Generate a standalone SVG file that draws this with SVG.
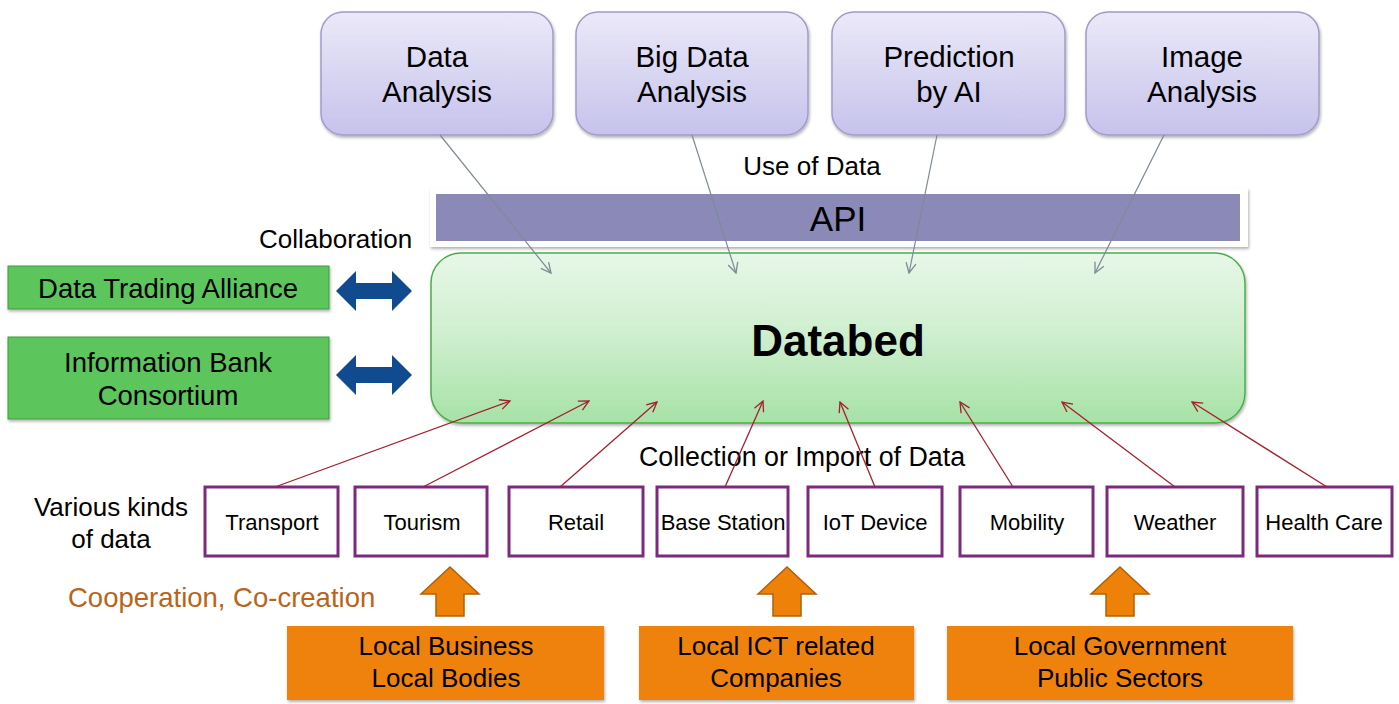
<svg xmlns="http://www.w3.org/2000/svg" width="1399" height="704" viewBox="0 0 1399 704">
<defs>
<linearGradient id="gTop" x1="0" y1="0" x2="0" y2="1">
<stop offset="0" stop-color="#ebe9f8"/><stop offset="1" stop-color="#c6c2ec"/>
</linearGradient>
<linearGradient id="gDb" x1="0" y1="0" x2="0" y2="1">
<stop offset="0" stop-color="#e8f7e8"/><stop offset="0.5" stop-color="#cdeecd"/><stop offset="1" stop-color="#a6e2a6"/>
</linearGradient>
<filter id="sh" x="-5%" y="-5%" width="110%" height="120%">
<feDropShadow dx="1" dy="2" stdDeviation="1.5" flood-color="#000" flood-opacity="0.3"/>
</filter>
<marker id="ag" viewBox="0 0 12 12" refX="11" refY="6" markerWidth="12" markerHeight="12" markerUnits="userSpaceOnUse" orient="auto">
<path d="M1,1 L11,6 L1,11" fill="none" stroke="#7d8b97" stroke-width="1.3"/>
</marker>
<marker id="ar" viewBox="0 0 12 12" refX="11" refY="6" markerWidth="12" markerHeight="12" markerUnits="userSpaceOnUse" orient="auto">
<path d="M1,1 L11,6 L1,11" fill="none" stroke="#a3202e" stroke-width="1.3"/>
</marker>
</defs>
<style>
text{font-family:"Liberation Sans",Arial,sans-serif;fill:#000}
.top{fill:url(#gTop);stroke:#a09cc8;stroke-width:1.5}
.tt{font-size:29.5px;text-anchor:middle}
.lbl{font-size:26px}
.grn{fill:#5cc65c;stroke:#3e9a3e;stroke-width:1}
.gt{font-size:27.5px;text-anchor:middle}
.dat{fill:#fff;stroke:#7b2a7e;stroke-width:3}
.dt{font-size:22px;text-anchor:middle}
.org{fill:#ee8208}
.ot{font-size:26px;text-anchor:middle}
.upa{fill:#ee8208;stroke:#b0600a;stroke-width:1.5}
.bl{fill:#0f4b8e}
.cg{stroke:#7d8b97;stroke-width:1.2;fill:none;marker-end:url(#ag)}
.cr{stroke:#a3202e;stroke-width:1.3;fill:none;marker-end:url(#ar)}
</style>
<rect width="1399" height="704" fill="#fff"/>

<g id="data-analysis"><rect class="top" x="321" y="12" width="232" height="123" rx="22" filter="url(#sh)"/><text class="tt" x="437" y="67">Data</text><text class="tt" x="437" y="102">Analysis</text></g>
<g id="big-data-analysis"><rect class="top" x="576" y="12" width="232" height="123" rx="22" filter="url(#sh)"/><text class="tt" x="692" y="67">Big Data</text><text class="tt" x="692" y="102">Analysis</text></g>
<g id="prediction-ai"><rect class="top" x="832" y="12" width="233" height="123" rx="22" filter="url(#sh)"/><text class="tt" x="949" y="67">Prediction</text><text class="tt" x="949" y="102">by AI</text></g>
<g id="image-analysis"><rect class="top" x="1086" y="12" width="233" height="123" rx="22" filter="url(#sh)"/><text class="tt" x="1202" y="67">Image</text><text class="tt" x="1202" y="102">Analysis</text></g>

<text class="lbl" x="812" y="175" text-anchor="middle">Use of Data</text>

<g id="api"><rect x="430" y="188" width="818" height="59" fill="#fff" filter="url(#sh)"/><rect x="436" y="194" width="804" height="47" fill="#8b89b7"/><text x="838" y="231" font-size="35" text-anchor="middle">API</text></g>

<text class="lbl" x="259" y="248">Collaboration</text>

<g id="databed"><rect x="431" y="253" width="814" height="170" rx="30" fill="url(#gDb)" stroke="#4aae4a" stroke-width="1.5" filter="url(#sh)"/><text x="838" y="356" font-size="44" font-weight="bold" text-anchor="middle">Databed</text></g>

<g id="data-trading-alliance"><rect class="grn" x="8" y="266" width="321" height="43" filter="url(#sh)"/><text class="gt" x="168" y="298">Data Trading Alliance</text></g>
<g id="information-bank"><rect class="grn" x="8" y="337" width="321" height="82" filter="url(#sh)"/><text class="gt" x="168" y="372">Information Bank</text><text class="gt" x="168" y="405">Consortium</text></g>

<g id="collab-arrows">
<path class="bl" d="M336,291 L356,271 L356,283 L392,283 L392,271 L412,291 L392,311 L392,299 L356,299 L356,311 Z"/>
<path class="bl" d="M336,375 L356,355 L356,367 L392,367 L392,355 L412,375 L392,395 L392,383 L356,383 L356,395 Z"/>
</g>

<text x="802" y="466" font-size="26.8" text-anchor="middle">Collection or Import of Data</text>

<text class="lbl" x="111" y="516" text-anchor="middle">Various kinds</text>
<text class="lbl" x="111" y="548" text-anchor="middle">of data</text>

<g id="transport"><rect class="dat" x="205" y="487" width="133" height="69"/><text class="dt" x="272" y="530">Transport</text></g>
<g id="tourism"><rect class="dat" x="355" y="487" width="132" height="69"/><text class="dt" x="422" y="530">Tourism</text></g>
<g id="retail"><rect class="dat" x="509" y="487" width="134" height="69"/><text class="dt" x="576" y="530">Retail</text></g>
<g id="base-station"><rect class="dat" x="657" y="487" width="131" height="69"/><text class="dt" x="723" y="530">Base Station</text></g>
<g id="iot-device"><rect class="dat" x="808" y="487" width="134" height="69"/><text class="dt" x="875" y="530">IoT Device</text></g>
<g id="mobility"><rect class="dat" x="960" y="487" width="133" height="69"/><text class="dt" x="1027" y="530">Mobility</text></g>
<g id="weather"><rect class="dat" x="1107" y="487" width="136" height="69"/><text class="dt" x="1175" y="530">Weather</text></g>
<g id="health-care"><rect class="dat" x="1257" y="487" width="135" height="69"/><text class="dt" x="1324" y="530">Health Care</text></g>

<g id="connectors">
<line class="cg" x1="440" y1="135" x2="551" y2="273"/>
<line class="cg" x1="692" y1="135" x2="736" y2="273"/>
<line class="cg" x1="937" y1="135" x2="909" y2="273"/>
<line class="cg" x1="1164" y1="135" x2="1095" y2="273"/>
<line class="cr" x1="275" y1="487" x2="510" y2="401"/>
<line class="cr" x1="423" y1="487" x2="589" y2="401"/>
<line class="cr" x1="560" y1="487" x2="657" y2="402"/>
<line class="cr" x1="725" y1="487" x2="763" y2="401"/>
<line class="cr" x1="875" y1="487" x2="840" y2="402"/>
<line class="cr" x1="1013" y1="487" x2="960" y2="402"/>
<line class="cr" x1="1175" y1="487" x2="1062" y2="402"/>
<line class="cr" x1="1327" y1="487" x2="1192" y2="402"/>
</g>

<text x="68" y="607" font-size="27.5" style="fill:#b8651a">Cooperation, Co-creation</text>

<g id="up-arrows">
<path class="upa" d="M450,567 L479,594 L464,594 L464,616 L436,616 L436,594 L421,594 Z"/>
<path class="upa" d="M787,567 L816,594 L801,594 L801,616 L773,616 L773,594 L758,594 Z"/>
<path class="upa" d="M1120,567 L1149,594 L1134,594 L1134,616 L1106,616 L1106,594 L1091,594 Z"/>
</g>

<g id="local-business"><rect class="org" x="287" y="626" width="317" height="74" filter="url(#sh)"/><text class="ot" x="446" y="655">Local Business</text><text class="ot" x="446" y="687">Local Bodies</text></g>
<g id="local-ict"><rect class="org" x="639" y="626" width="275" height="74" filter="url(#sh)"/><text class="ot" x="776" y="655">Local ICT related</text><text class="ot" x="776" y="687">Companies</text></g>
<g id="local-government"><rect class="org" x="947" y="626" width="346" height="74" filter="url(#sh)"/><text class="ot" x="1120" y="655">Local Government</text><text class="ot" x="1120" y="687">Public Sectors</text></g>
</svg>
